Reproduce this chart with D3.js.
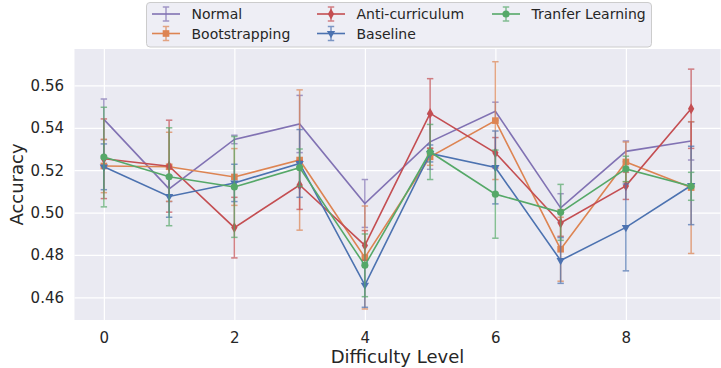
<!DOCTYPE html>
<html>
<head>
<meta charset="utf-8">
<script src="https://cdn.jsdelivr.net/npm/d3@7"></script>
<style>
  body { margin: 0; background: #fff; }
  text { font-family: "DejaVu Sans", sans-serif; fill: #262626; }
</style>
</head>
<body>
<svg id="chart" width="721" height="368"></svg>
<script>
// difficulty levels and ticks
const levels = [0, 1, 2, 3, 4, 5, 6, 7, 8, 9];
const xTicks = [0, 2, 4, 6, 8];
const yTicks = [0.46, 0.48, 0.50, 0.52, 0.54, 0.56];

// mean accuracy and error per method
const normalAcc = [0.5440, 0.5112, 0.5345, 0.5418, 0.5043, 0.5334, 0.5478, 0.5022, 0.5289, 0.5338];
const normalErr = [0.0096, 0.0060, 0.0020, 0.0135, 0.0113, 0.0130, 0.0043, 0.0067, 0.0049, 0.0090];
const bootAcc = [0.5220, 0.5216, 0.5168, 0.5248, 0.4788, 0.5263, 0.5434, 0.4827, 0.5239, 0.5118];
const bootErr = [0.0126, 0.0163, 0.0134, 0.0331, 0.0243, 0.0040, 0.0278, 0.0151, 0.0094, 0.0311];
const antiAcc = [0.5254, 0.5219, 0.4929, 0.5130, 0.4845, 0.5468, 0.5282, 0.4951, 0.5126, 0.5490];
const antiErr = [0.0188, 0.0217, 0.0143, 0.0115, 0.0070, 0.0164, 0.0072, 0.0063, 0.0064, 0.0187];
const baseAcc = [0.5216, 0.5076, 0.5140, 0.5232, 0.4658, 0.5279, 0.5213, 0.4774, 0.4930, 0.5128];
const baseErr = [0.0108, 0.0098, 0.0088, 0.0160, 0.0105, 0.0040, 0.0172, 0.0108, 0.0205, 0.0185];
const transferAcc = [0.5262, 0.5169, 0.5121, 0.5212, 0.4751, 0.5286, 0.5087, 0.5001, 0.5206, 0.5124];
const transferErr = [0.0235, 0.0231, 0.0238, 0.0088, 0.0148, 0.0130, 0.0208, 0.0132, 0.0060, 0.0066];

const series = [
  { name: 'Normal', mean: normalAcc, err: normalErr, color: '#8172b3', marker: null },
  { name: 'Bootstrapping', mean: bootAcc, err: bootErr, color: '#dd8452', marker: d3.symbolSquare, size: 44 },
  { name: 'Anti-curriculum', mean: antiAcc, err: antiErr, color: '#c44e52', marker: d3.symbolDiamond, size: 34 },
  { name: 'Baseline', mean: baseAcc, err: baseErr, color: '#4c72b0', marker: d3.symbolTriangle, size: 30, flip: true },
  { name: 'Tranfer Learning', mean: transferAcc, err: transferErr, color: '#55a868', marker: d3.symbolCircle, size: 40 }
];

const plotL = 74.5, plotR = 720.5, plotT = 49, plotB = 320;
const capW = 3.2;

const svg = d3.select('#chart');

const x = d3.scaleLinear().domain([-0.45, 9.45]).range([plotL, plotR]);
const y = d3.scaleLinear().domain([0.4493, 0.5772]).range([plotB, plotT]);

// plot background
svg.append('rect')
  .attr('x', plotL).attr('y', plotT)
  .attr('width', plotR - plotL).attr('height', plotB - plotT)
  .attr('fill', '#eaeaf2');

// y grid + labels
const gy = svg.append('g')
  .attr('transform', `translate(${plotL},0)`)
  .call(d3.axisLeft(y).tickValues(yTicks).tickFormat(d3.format('.2f'))
    .tickSize(-(plotR - plotL)).tickPadding(10.5));
gy.select('.domain').remove();
gy.selectAll('line').attr('stroke', '#fff').attr('stroke-width', 1.2);
gy.selectAll('text').attr('font-size', 15).attr('font-family', 'DejaVu Sans').attr('fill', '#262626');

// x grid + labels
const gx = svg.append('g')
  .attr('transform', `translate(0,${plotB})`)
  .call(d3.axisBottom(x).tickValues(xTicks).tickFormat(d3.format('d'))
    .tickSize(-(plotB - plotT)).tickPadding(12));
gx.select('.domain').remove();
gx.selectAll('line').attr('stroke', '#fff').attr('stroke-width', 1.2);
gx.selectAll('text').attr('font-size', 15).attr('font-family', 'DejaVu Sans').attr('fill', '#262626');

// axis titles
svg.append('text')
  .attr('x', (plotL + plotR) / 2).attr('y', 363)
  .attr('text-anchor', 'middle').attr('font-size', 18)
  .text('Difficulty Level');
svg.append('text')
  .attr('transform', `translate(23,${(plotT + plotB) / 2}) rotate(-90)`)
  .attr('text-anchor', 'middle').attr('font-size', 18)
  .text('Accuracy');

const line = d3.line()
  .x((d, i) => x(levels[i]))
  .y(d => y(d));

// draw each series: error bars, line, markers
series.forEach(s => {
  const g = svg.append('g');
  const eb = g.append('g')
    .attr('stroke', s.color).attr('stroke-width', 1.5).attr('opacity', 0.7);
  levels.forEach((lv, i) => {
    const cx = x(lv), y0 = y(s.mean[i] - s.err[i]), y1 = y(s.mean[i] + s.err[i]);
    eb.append('line').attr('x1', cx).attr('x2', cx).attr('y1', y0).attr('y2', y1);
    eb.append('line').attr('x1', cx - capW).attr('x2', cx + capW).attr('y1', y0).attr('y2', y0);
    eb.append('line').attr('x1', cx - capW).attr('x2', cx + capW).attr('y1', y1).attr('y2', y1);
  });

  g.append('path')
    .datum(s.mean)
    .attr('d', line)
    .attr('fill', 'none')
    .attr('stroke', s.color)
    .attr('stroke-width', 1.6);

  if (s.marker) {
    const sym = d3.symbol().type(s.marker).size(s.size);
    g.selectAll('.mk')
      .data(s.mean)
      .enter()
      .append('path')
      .attr('d', sym)
      .attr('transform', (d, i) => `translate(${x(levels[i])},${y(d)})${s.flip ? ' rotate(180)' : ''}`)
      .attr('fill', s.color);
  }
});

// legend
const legend = svg.append('g');
legend.append('rect')
  .attr('x', 146.5).attr('y', 2.5)
  .attr('width', 505).attr('height', 44.5)
  .attr('rx', 3.5)
  .attr('fill', '#eaeaf2').attr('fill-opacity', 0.8)
  .attr('stroke', '#cccccc').attr('stroke-width', 1);

const colX = [152, 317, 492];
const rowY = [14, 33.5];
series.forEach((s, i) => {
  const col = Math.floor(i / 2), row = i % 2;
  const hx = colX[col], hy = rowY[row], mid = hx + 14;
  const item = legend.append('g');
  item.append('line')
    .attr('x1', hx).attr('x2', hx + 28).attr('y1', hy).attr('y2', hy)
    .attr('stroke', s.color).attr('stroke-width', 1.6);
  const eb = item.append('g').attr('stroke', s.color).attr('stroke-width', 1.5).attr('opacity', 0.7);
  eb.append('line').attr('x1', mid).attr('x2', mid).attr('y1', hy - 7).attr('y2', hy + 7);
  eb.append('line').attr('x1', mid - capW).attr('x2', mid + capW).attr('y1', hy - 7).attr('y2', hy - 7);
  eb.append('line').attr('x1', mid - capW).attr('x2', mid + capW).attr('y1', hy + 7).attr('y2', hy + 7);
  if (s.marker) {
    item.append('path')
      .attr('d', d3.symbol().type(s.marker).size(s.size))
      .attr('transform', `translate(${mid},${hy})${s.flip ? ' rotate(180)' : ''}`)
      .attr('fill', s.color);
  }
  item.append('text')
    .attr('x', hx + 39.5).attr('y', hy + 5)
    .attr('font-size', 14)
    .text(s.name);
});
</script>
</body>
</html>
